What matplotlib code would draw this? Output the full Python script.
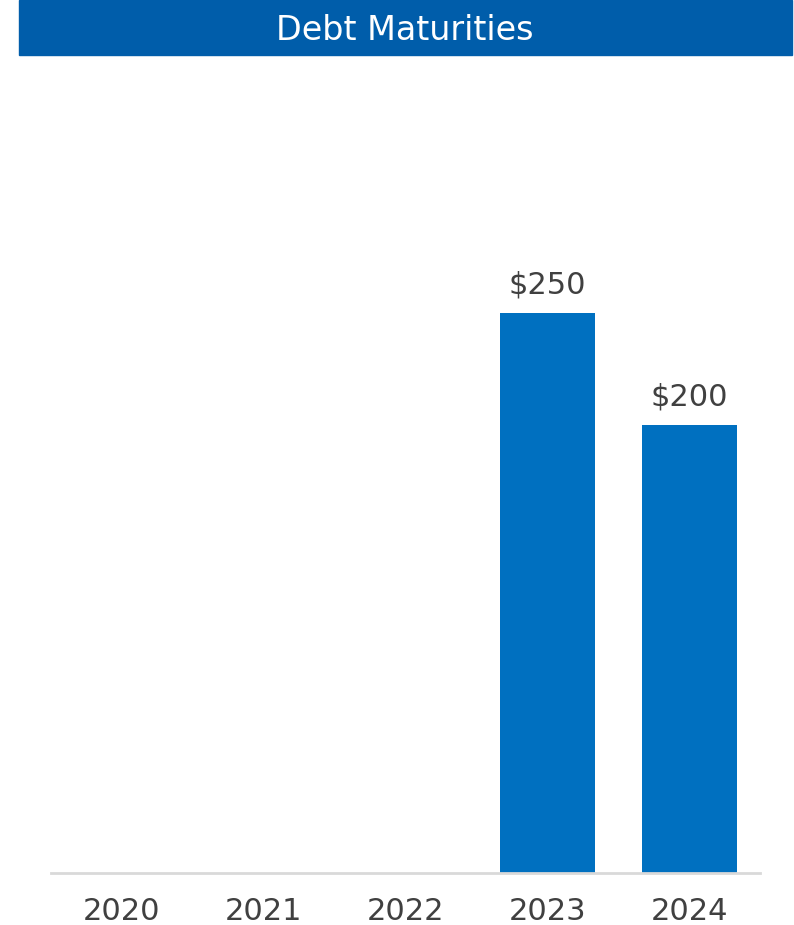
import matplotlib.pyplot as plt
from matplotlib.patches import Rectangle

# Chart data
years = ['2020', '2021', '2022', '2023', '2024']
maturities = [0, 0, 0, 250, 200]
value_labels = ['', '', '', '$250', '$200']

BAR_BLUE = '#0070C0'
BANNER_BLUE = '#005DAA'
TEXT_GREY = '#404040'


def main():
    plt.rcParams['font.family'] = ['DejaVu Sans']
    fig = plt.figure(figsize=(7.94, 9.25), dpi=100)

    # Title banner across the top
    W, H = 794.0, 925.0
    fig.patches.append(Rectangle((19 / W, 1 - 55 / H), (792 - 19) / W, 55 / H,
                                 transform=fig.transFigure, color=BANNER_BLUE,
                                 zorder=0))
    fig.text(405 / W, 1 - 31 / H, 'Debt Maturities', color='white',
             fontsize=24, ha='center', va='center')

    ax = fig.add_axes([51 / W, 52 / H, (760 - 51) / W, (873 - 100) / H])
    x = range(len(years))
    bars = ax.bar(x, maturities, width=0.67, color=BAR_BLUE, zorder=2)
    for b, lab in zip(bars, value_labels):
        if lab:
            ax.annotate(lab, (b.get_x() + b.get_width() / 2, b.get_height()),
                        xytext=(0, 10), textcoords='offset points',
                        ha='center', va='bottom', fontsize=22, color=TEXT_GREY)

    ax.set_xlim(-0.5, 4.5)
    ax.set_ylim(0, 250 * (873 - 100) / 560)
    ax.set_xticks(list(x))
    ax.set_xticklabels(years, fontsize=22, color=TEXT_GREY)
    ax.tick_params(axis='x', length=0, pad=17)
    ax.set_yticks([])
    for s in ['left', 'right', 'top']:
        ax.spines[s].set_visible(False)
    ax.spines['bottom'].set_color('#D9D9D9')
    ax.spines['bottom'].set_linewidth(2)
    ax.spines['bottom'].set_zorder(3)

    fig.savefig('out.png', dpi=100)


if __name__ == "__main__":
    main()
